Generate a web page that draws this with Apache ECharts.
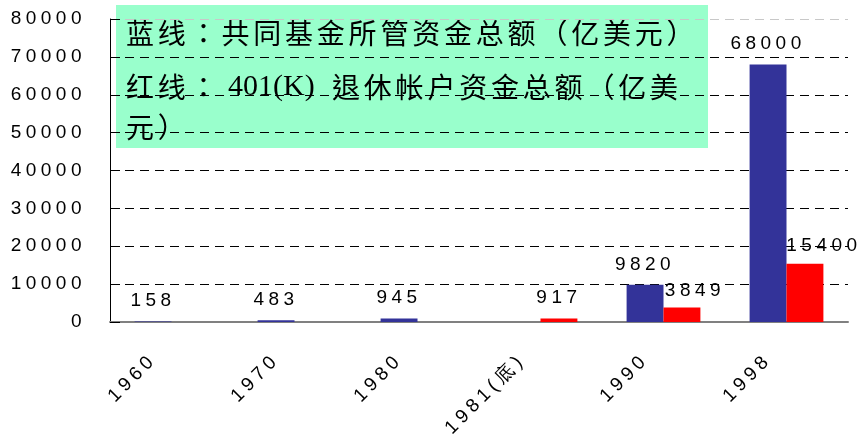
<!DOCTYPE html>
<html>
<head>
<meta charset="utf-8">
<script src="https://cdn.jsdelivr.net/npm/echarts@6/dist/echarts.min.js"></script>
<style>
  html, body { margin: 0; padding: 0; background: #fff; }
  #chart { width: 858px; height: 439px; }
</style>
</head>
<body>
<div id="chart"></div>
<script>
// Categories (years) and the two series, in 亿美元
const categories = ['1960', '1970', '1980', '1981(底)', '1990', '1998'];
const mutualFundAssets = [158, 483, 945, null, 9820, 68000];   // 共同基金所管资金总额
const k401Assets = [null, null, null, 917, 3849, 15400];       // 401(K) 退休帐户资金总额

// Value axis range
const yMin = 0;
const yMax = 80000;
const yStep = 10000;

// Legend note lines
const noteLine1 = '蓝线：共同基金所管资金总额（亿美元）';
const noteLine2a = '红线： ';
const noteLine2b = '401(K)';
const noteLine2c = '退休帐户资金总额（亿美';
const noteLine3 = '元）';

// Wide character spacing for canvas text (none for the serif run)
const nativeFillText = CanvasRenderingContext2D.prototype.fillText;
CanvasRenderingContext2D.prototype.fillText = function (text, x, y, maxWidth) {
  const f = this.font;
  this.letterSpacing = /Serif/.test(f) ? '0px' : (/CJK/.test(f) ? '3.8px' : '4.5px');
  return maxWidth === undefined
    ? nativeFillText.call(this, text, x, y)
    : nativeFillText.call(this, text, x, y, maxWidth);
};

// Red labels that sit beside the tall blue bars get nudged right
const redLabelNudge = { 4: [13, 4], 5: [19, 3] };

const SANS = 'Liberation Sans';
const CJK_FONT = '28px "Noto Sans CJK TC"';

function toBarData(values, nudge) {
  return values.map((v, i) => {
    if (v === null) return '-';
    const item = { value: v };
    if (nudge && nudge[i]) item.label = { offset: nudge[i] };
    return item;
  });
}

const splitColors = [];
for (let v = yMin; v <= yMax; v += yStep) splitColors.push(v === yMax ? '#c8c8c8' : '#000');

const labelStyle = {
  show: true,
  position: 'top',
  distance: 11,
  color: '#000',
  fontFamily: SANS,
  fontSize: 19
};

const chart = echarts.init(document.getElementById('chart'), null, { renderer: 'canvas' });
chart.setOption({
  animation: false,
  backgroundColor: '#fff',
  grid: { left: 110, right: 10, top: 19, bottom: 117 },
  xAxis: {
    type: 'category',
    data: categories,
    axisLine: { lineStyle: { color: '#808080', width: 2 } },
    axisTick: { inside: true, length: 10, lineStyle: { color: '#000' } },
    axisLabel: {
      interval: 0,
      rotate: 45,
      margin: 17,
      padding: [0, 25, 0, 0],
      color: '#000',
      fontFamily: SANS,
      fontSize: 19
    }
  },
  yAxis: {
    type: 'value',
    min: yMin,
    max: yMax,
    interval: yStep,
    axisLine: { show: true, lineStyle: { color: '#000' } },
    axisTick: { show: true, inside: true, length: 10, lineStyle: { color: '#000' } },
    axisLabel: {
      margin: 24,
      color: '#000',
      fontFamily: SANS,
      fontSize: 19,
      formatter: (v) => String(v)
    },
    splitLine: { show: true, lineStyle: { type: [9, 6], color: splitColors, width: 1 } }
  },
  series: [
    {
      name: '共同基金所管资金总额',
      type: 'bar',
      data: toBarData(mutualFundAssets),
      itemStyle: { color: '#333399' },
      barGap: '0%',
      barCategoryGap: '40%',
      label: labelStyle
    },
    {
      name: '401(K) 退休帐户资金总额',
      type: 'bar',
      data: toBarData(k401Assets, redLabelNudge),
      itemStyle: { color: '#FF0000' },
      barGap: '0%',
      barCategoryGap: '40%',
      label: labelStyle
    }
  ],
  graphic: [
    {
      type: 'group',
      zlevel: 1,
      z: 100,
      children: [
        {
          type: 'rect',
          shape: { x: 116, y: 5, width: 592, height: 143 },
          style: { fill: '#99FFCC' }
        },
        {
          type: 'text', x: 126, y: 33,
          style: { text: noteLine1, font: CJK_FONT, fill: '#000', textVerticalAlign: 'middle' }
        },
        {
          type: 'text', x: 126, y: 87,
          style: { text: noteLine2a, font: CJK_FONT, fill: '#000', textVerticalAlign: 'middle' }
        },
        {
          type: 'text', x: 228, y: 87,
          style: { text: noteLine2b, font: '30px "Liberation Serif"', fill: '#000', textVerticalAlign: 'middle' }
        },
        {
          type: 'text', x: 332, y: 87,
          style: { text: noteLine2c, font: CJK_FONT, fill: '#000', textVerticalAlign: 'middle' }
        },
        {
          type: 'text', x: 126, y: 127,
          style: { text: noteLine3, font: CJK_FONT, fill: '#000', textVerticalAlign: 'middle' }
        }
      ]
    }
  ]
});
</script>
</body>
</html>
